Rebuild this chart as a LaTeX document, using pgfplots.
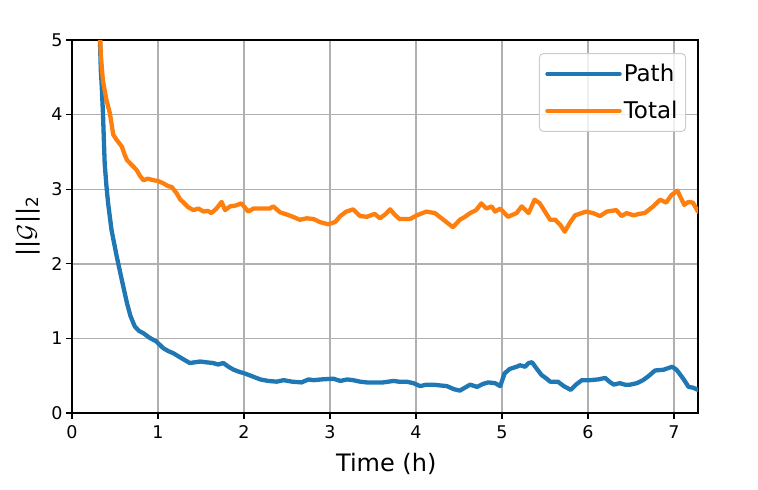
\documentclass[border=0pt]{standalone}
\usepackage{fontspec}
\setmainfont{DejaVu Sans}
\usepackage{pgfplots}
\pgfplotsset{compat=1.18}
\definecolor{c0}{HTML}{1F77B4}
\definecolor{c1}{HTML}{FF7F0E}
\definecolor{gridc}{HTML}{B0B0B0}
\begin{document}
\begin{tikzpicture}
\path[use as bounding box] (-72pt,-77pt) rectangle (686pt,413pt);
\begin{axis}[
  at={(0pt,0pt)}, anchor=south west,
  scale only axis, width=626pt, height=373pt,
  xmin=0, xmax=7.28, ymin=0, ymax=5,
  xtick={0,1,2,3,4,5,6,7}, ytick={0,1,2,3,4,5},
  grid=major, major grid style={gridc, line width=1.4pt},
  axis line style={black, line width=1.2pt},
  tick style={black, line width=1.2pt},
  tick align=outside, major tick length=6pt,
  tick pos=left,
  /pgf/number format/assume math mode=true,
  ticklabel style={font=\fontsize{17.5}{20}\selectfont},
  xticklabel style={yshift=-3pt},
  xlabel={Time (h)}, ylabel={||$\mathcal{G}$||\textsubscript{2}},
  label style={font=\fontsize{24}{28}\selectfont},
  xlabel style={at={(axis description cs:0.502,0)}, anchor=north, yshift=-37pt},
  ylabel style={at={(axis description cs:-0.0703,0.5)}, anchor=center},
  clip=true,
  legend style={at={(rel axis cs:1,1)}, anchor=north east, xshift=-12pt, yshift=-13pt,
    draw=gray!40, line width=1pt, fill=white, fill opacity=0.8, text opacity=1, rounded corners=4pt,
    font=\fontsize{23}{26}\selectfont, inner xsep=6pt, inner ysep=9pt, row sep=14pt},
  legend cell align=left,
  legend image code/.code={\draw[#1] (0pt,0pt) -- (55pt,0pt); \path (0pt,0pt) -- (72pt,0pt);},
  every axis plot/.append style={line width=4.3pt, line join=round, line cap=round},
]
\addplot[c0] coordinates {
(0.315,5.40) (0.325,5.00) (0.335,4.60) (0.345,4.40) (0.36,4.02) (0.38,3.35) (0.40,3.05) (0.42,2.81)
(0.46,2.45) (0.52,2.10) (0.58,1.78) (0.64,1.47) (0.68,1.30) (0.73,1.16) (0.78,1.10) (0.83,1.07)
(0.90,1.01) (0.98,0.96) (1.06,0.87) (1.12,0.83) (1.18,0.80) (1.28,0.73) (1.37,0.67) (1.43,0.68)
(1.49,0.69) (1.56,0.68) (1.64,0.67) (1.70,0.65) (1.76,0.67) (1.82,0.62) (1.88,0.58) (1.95,0.55)
(2.01,0.53) (2.10,0.49) (2.19,0.45) (2.28,0.43) (2.38,0.42) (2.46,0.44) (2.56,0.42) (2.67,0.41)
(2.75,0.45) (2.81,0.44) (2.90,0.45) (3.04,0.46) (3.12,0.43) (3.20,0.45) (3.27,0.44) (3.35,0.42)
(3.43,0.41) (3.52,0.41) (3.62,0.41) (3.74,0.43) (3.80,0.42) (3.89,0.42) (3.97,0.40) (4.05,0.36)
(4.12,0.38) (4.20,0.38) (4.28,0.37) (4.36,0.36) (4.44,0.32) (4.51,0.30) (4.57,0.34) (4.63,0.38)
(4.71,0.35) (4.78,0.39) (4.84,0.41) (4.92,0.40) (4.98,0.36) (5.03,0.53) (5.09,0.59) (5.17,0.62)
(5.21,0.64) (5.27,0.62) (5.31,0.67) (5.35,0.68) (5.40,0.60) (5.46,0.51) (5.52,0.46) (5.56,0.42)
(5.65,0.42) (5.72,0.36) (5.80,0.31) (5.86,0.38) (5.93,0.44) (6.02,0.44) (6.12,0.45) (6.20,0.47)
(6.25,0.42) (6.30,0.38) (6.37,0.40) (6.43,0.38) (6.49,0.38) (6.57,0.40) (6.64,0.44) (6.70,0.49)
(6.78,0.57) (6.88,0.58) (6.98,0.62) (7.03,0.58) (7.07,0.52) (7.12,0.44) (7.17,0.35) (7.22,0.34)
(7.28,0.31)
};
\addlegendentry{Path\hspace{4pt}}
\addplot[c1] coordinates {
(0.320,5.30) (0.335,4.80) (0.36,4.45) (0.40,4.20) (0.44,4.02) (0.48,3.73) (0.52,3.66) (0.58,3.57)
(0.61,3.47) (0.64,3.39) (0.69,3.33) (0.75,3.26) (0.79,3.18) (0.83,3.12) (0.88,3.14) (0.95,3.12)
(1.00,3.11) (1.06,3.08) (1.12,3.04) (1.16,3.03) (1.22,2.94) (1.26,2.86) (1.29,2.83) (1.35,2.76)
(1.41,2.72) (1.47,2.74) (1.53,2.70) (1.58,2.71) (1.62,2.68) (1.68,2.74) (1.74,2.83) (1.78,2.72)
(1.84,2.77) (1.90,2.78) (1.97,2.81) (2.05,2.70) (2.11,2.74) (2.20,2.74) (2.30,2.74) (2.34,2.77)
(2.42,2.69) (2.50,2.66) (2.57,2.63) (2.65,2.59) (2.73,2.61) (2.81,2.60) (2.88,2.56) (2.98,2.53)
(3.06,2.56) (3.12,2.64) (3.19,2.70) (3.27,2.73) (3.35,2.64) (3.43,2.63) (3.52,2.67) (3.58,2.61)
(3.64,2.66) (3.70,2.73) (3.76,2.65) (3.81,2.60) (3.93,2.60) (4.01,2.65) (4.12,2.70) (4.22,2.68)
(4.32,2.59) (4.43,2.49) (4.51,2.59) (4.57,2.63) (4.63,2.68) (4.70,2.72) (4.76,2.81) (4.82,2.74)
(4.88,2.77) (4.92,2.70) (4.98,2.74) (5.07,2.63) (5.17,2.68) (5.23,2.77) (5.31,2.68) (5.38,2.86)
(5.44,2.81) (5.50,2.70) (5.56,2.59) (5.62,2.59) (5.68,2.52) (5.73,2.43) (5.79,2.55) (5.85,2.65)
(5.98,2.70) (6.06,2.68) (6.14,2.64) (6.22,2.70) (6.33,2.72) (6.39,2.64) (6.45,2.68) (6.53,2.65)
(6.60,2.67) (6.66,2.68) (6.76,2.77) (6.84,2.86) (6.91,2.82) (6.97,2.92) (7.04,2.98) (7.12,2.79)
(7.17,2.83) (7.22,2.82) (7.28,2.70)
};
\addlegendentry{Total\hspace{4pt}}
\end{axis}
\end{tikzpicture}
\end{document}
